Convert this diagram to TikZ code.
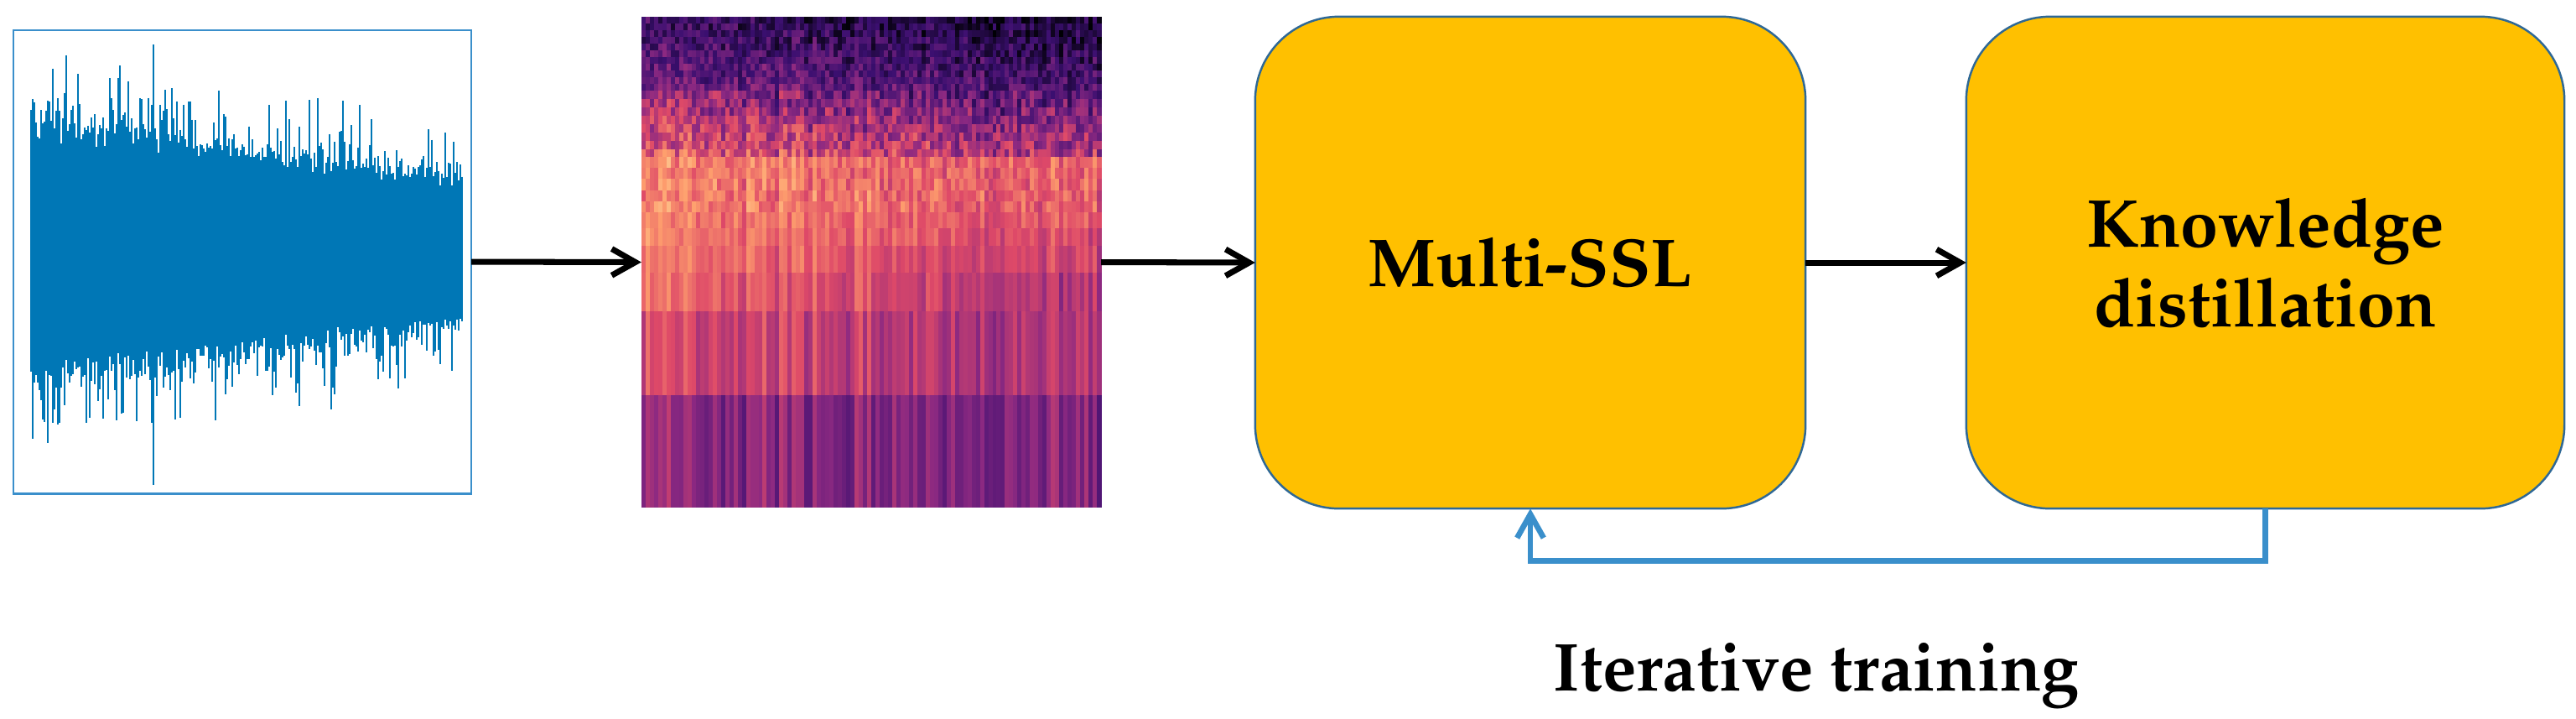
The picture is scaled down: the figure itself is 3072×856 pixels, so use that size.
\documentclass[tikz,border=0pt]{standalone}
\usepackage[T1]{fontenc}
\renewcommand\rmdefault{ppl}
\usetikzlibrary{arrows.meta}
\definecolor{wblue}{RGB}{0,119,182}
\definecolor{lblue}{RGB}{58,143,203}
\definecolor{ygold}{RGB}{255,192,0}
\definecolor{bedge}{RGB}{46,104,150}
\definecolor{mag0}{RGB}{0,0,4}
\definecolor{mag1}{RGB}{59,15,112}
\definecolor{mag2}{RGB}{140,41,129}
\definecolor{mag3}{RGB}{222,73,104}
\definecolor{mag4}{RGB}{254,159,109}
\definecolor{mag5}{RGB}{252,253,191}
\newcommand\magset[1]{%
  \pgfmathsetmacro\mv{max(0,min(0.999,#1))}%
  \pgfmathtruncatemacro\mk{floor(\mv*5)}%
  \pgfmathsetmacro\mp{(\mv*5-\mk)*100}%
  \pgfmathtruncatemacro\mkn{\mk+1}%
  \edef\mtmp{\noexpand\colorlet{cc}{mag\mkn!\mp!mag\mk}}\mtmp}
\newcommand\specrow[6]{%
  \foreach \j in {0,...,109}{%
    \pgfmathsetmacro\sx{765+\j*4.982}%
    \pgfmathsetmacro\hs{2*mod(abs(sin(\j*137.508+11)*997.3),1)-1}%
    \pgfmathsetmacro\sv{#3+#4*(\j/109-0.5)+#5*\hs+#6*(2*rnd-1)}%
    \magset{\sv}%
    \fill[cc] (\sx,#1) rectangle (\sx+5.5,#2);
  }}
\tikzset{
  wbox/.style={draw=lblue, line width=0.75pt, inner sep=0pt, outer sep=0pt},
  wline/.style={draw=wblue, line width=0.026cm},
  ybox/.style={draw=bedge, fill=ygold, line width=0.7pt, rounded corners=1cm,
    inner sep=0pt, outer sep=0pt, minimum height=5.86cm, align=center,
    font=\fontsize{23}{27}\selectfont\bfseries},
  flow/.style={line width=2pt, -{Straight Barb[length=8pt,width=9pt]}},
  fb/.style={draw=lblue, line width=1.9pt, -{Straight Barb[length=8pt,width=9pt]}},
  lbl/.style={font=\fontsize{23}{27}\selectfont\bfseries, inner sep=0pt}
}
\begin{document}
\begin{tikzpicture}[x=0.01cm,y=-0.01cm]
\useasboundingbox (0,0) rectangle (3072,856);
% waveform
\pgfmathsetseed{7}
\foreach \i in {0,...,257}{%
  \pgfmathsetmacro\wx{37+2*\i}%
  \pgfmathsetmacro\wt{\i/257}%
  \pgfmathsetmacro\env{185-85*\wt}%
  \pgfmathsetmacro\up{\env*(0.72+0.22*rnd)+75*pow(rnd,4)}%
  \pgfmathsetmacro\dn{\env*(0.72+0.22*rnd)+75*pow(rnd,4)}%
  \draw[wline] (\wx,300-\up) -- (\wx,300+\dn);
}
\draw[wblue, line width=0.02cm] (183,53) -- (183,578);
\node[wbox, minimum width=5.46cm, minimum height=5.52cm] (wave) at (289,312) {};
% spectrogram
\pgfmathsetseed{11}
\foreach \r in {0,...,10}{%
  \pgfmathsetmacro\yt{20+8*\r}\pgfmathsetmacro\yb{\yt+8.5}\pgfmathsetmacro\mm{0.14+0.014*\r}%
  \specrow{\yt}{\yb}{\mm}{-0.1}{0.04}{0.12}}
\foreach \r in {0,...,7}{%
  \pgfmathsetmacro\yt{108+10*\r}\pgfmathsetmacro\yb{\yt+10.5}\pgfmathsetmacro\mm{0.34+0.03*\r}%
  \specrow{\yt}{\yb}{\mm}{-0.16}{0.06}{0.16}}
\foreach \r in {0,...,4}{%
  \pgfmathsetmacro\yt{187+13.2*\r}\pgfmathsetmacro\yb{\yt+13.7}%
  \specrow{\yt}{\yb}{0.68}{-0.08}{0.06}{0.1}}
\specrow{253}{272.5}{0.67}{-0.1}{0.06}{0.06}
\specrow{272}{293.5}{0.65}{-0.14}{0.06}{0.06}
\specrow{293}{325.5}{0.62}{-0.16}{0.07}{0.05}
\specrow{325}{371.5}{0.58}{-0.2}{0.08}{0.05}
\specrow{371}{471.5}{0.52}{-0.1}{0.09}{0.05}
\specrow{471}{605}{0.38}{-0.03}{0.1}{0.04}
\node[inner sep=0pt, outer sep=0pt, minimum width=5.48cm, minimum height=5.85cm] (spec) at (1039,312.5) {};
% boxes
\node[ybox, minimum width=6.56cm] (mssl) at (1825,313) {Multi-SSL};
\node[ybox, minimum width=7.13cm] (kd) at (2701.5,313) {Knowledge\\distillation};
% connectors
\draw[flow] (wave.east) -- (spec.west);
\draw[flow] (spec.east) -- (mssl.west);
\draw[flow] (mssl.east) -- (kd.west);
\draw[fb] (kd.south) -- ++(0,62) -| (mssl.south);
\node[lbl, anchor=base] (it) at (2166,823) {Iterative training};
\end{tikzpicture}
\end{document}
